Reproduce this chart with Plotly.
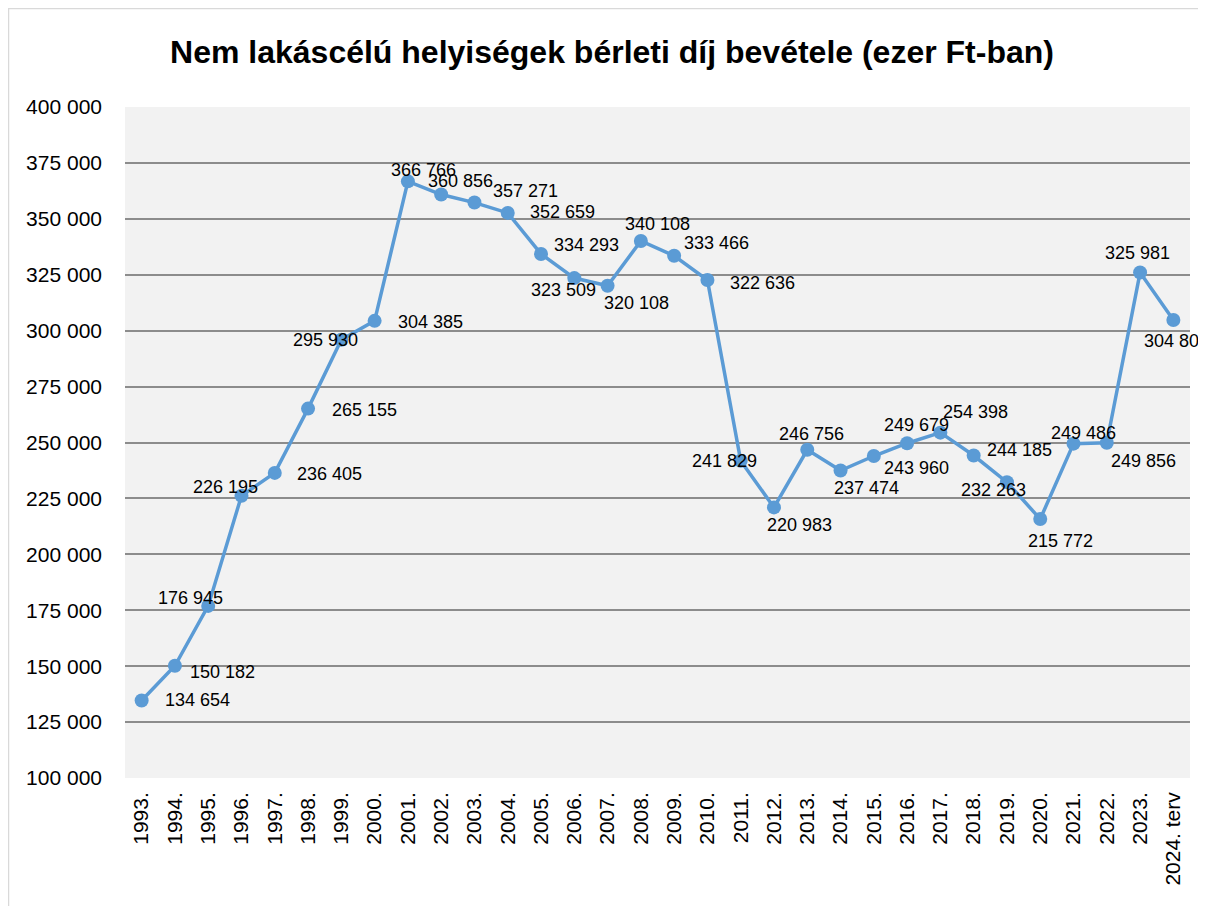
import plotly.graph_objects as go

years = ["1993.", "1994.", "1995.", "1996.", "1997.", "1998.", "1999.", "2000.",
         "2001.", "2002.", "2003.", "2004.", "2005.", "2006.", "2007.", "2008.",
         "2009.", "2010.", "2011.", "2012.", "2013.", "2014.", "2015.", "2016.",
         "2017.", "2018.", "2019.", "2020.", "2021.", "2022.", "2023.", "2024. terv"]
values = [134654, 150182, 176945, 226195, 236405, 265155, 295930, 304385,
          366766, 360856, 357271, 352659, 334293, 323509, 320108, 340108,
          333466, 322636, 241829, 220983, 246756, 237474, 243960, 249679,
          254398, 244185, 232263, 215772, 249486, 249856, 325981, 304800]
y_ticks = [100000, 125000, 150000, 175000, 200000, 225000, 250000,
           275000, 300000, 325000, 350000, 375000, 400000]

# label offsets in pixels (dx right, dy down) relative to each marker
label_dx = [56, 48, -18, -16, 55, 56, -16, 56, 16, 19, 51, 55, 45, -11, 29, 17,
            42, 55, -16, 26, 4, 26, 43, 9, 35, 46, -13, 20, 10, 37, -3, 3]
label_dy = [0, 6, -8, -9, 1, 1, 0, 1, -11, -14, -12, -1, -9, 12, 17, -17,
            -13, 3, 0, 18, -16, 17, 12, -18, -21, -6, 8, 22, -11, 18, -20, 21]

def fmt(v):
    return f"{v:,}".replace(",", " ")

FONT = "Liberation Sans"
W, H = 1198, 898
ML, MR, MT, MB = 117, 16, 99, 128
PW, PH = W - ML - MR, H - MT - MB

fig = go.Figure()
fig.add_trace(go.Scatter(
    x=list(range(len(years))), y=values, mode="lines+markers",
    line=dict(color="#5b9bd5", width=3.5),
    marker=dict(color="#5b9bd5", size=14),
    hoverinfo="skip", showlegend=False, cliponaxis=False,
))

for i, v in enumerate(values):
    fig.add_annotation(x=i, y=v, text=fmt(v), showarrow=False,
                       xanchor="center", yanchor="middle",
                       xshift=label_dx[i], yshift=-label_dy[i],
                       font=dict(family=FONT, size=18, color="#000000"))

fig.add_shape(type="rect", xref="paper", yref="paper",
              x0=(0.5 - ML) / PW, x1=(W + 20 - ML) / PW,
              y0=-(MB + 20) / PH, y1=1 + (MT - 0.5) / PH,
              line=dict(color="#d9d9d9", width=1.5), layer="below")

fig.update_layout(
    width=W, height=H,
    margin=dict(l=ML, r=MR, t=MT, b=MB),
    paper_bgcolor="white", plot_bgcolor="#f2f2f2",
    separators=", ",
    title=dict(text="<b>Nem lakáscélú helyiségek bérleti díj bevétele (ezer Ft-ban)</b>",
               x=(612 - 8 - ML) / PW, xref="paper", xanchor="center",
               y=1 - 44 / H, yanchor="middle",
               font=dict(family=FONT, size=32, color="#000000")),
    xaxis=dict(tickmode="array", tickvals=list(range(len(years))), ticktext=years,
               range=[-0.5, len(years) - 0.5], tickangle=-90, showgrid=False,
               zeroline=False, showline=False, ticks="", ticklabelstandoff=9,
               tickfont=dict(family=FONT, size=21, color="#000000")),
    yaxis=dict(tickmode="array", tickvals=y_ticks, range=[100000, 400000],
               tickformat=",d", showgrid=True, gridcolor="#8c8c8c", gridwidth=2,
               zeroline=False, showline=False, ticks="", ticklabelstandoff=22,
               tickfont=dict(family=FONT, size=21, color="#000000")),
)

fig.write_html("out.html")
